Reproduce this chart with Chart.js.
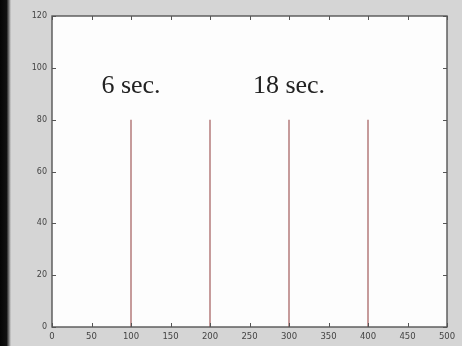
<!DOCTYPE html>
<html>
<head>
<meta charset="utf-8">
<script src="https://cdn.jsdelivr.net/npm/chart.js@4/dist/chart.umd.min.js"></script>
<style>
  html, body { margin: 0; padding: 0; background: #d5d5d5; }
  #wrap { width: 462px; height: 346px; position: relative; filter: blur(0.45px); }
  canvas { display: block; }
</style>
</head>
<body>
<div id="wrap"><canvas id="c" width="462" height="346"></canvas></div>
<script>
// Spike positions (x) and heights
const spikeX = [100, 200, 300, 400];
const spikeHeight = [80, 80, 80, 80];

// Text annotations
const noteText = ['6 sec.', '18 sec.'];
const noteX = [100, 300];
const noteY = [93, 93];

// Axis tick values
const xTicks = [0, 50, 100, 150, 200, 250, 300, 350, 400, 450, 500];
const yTicks = [0, 20, 40, 60, 80, 100, 120];

const spikeColor = 'rgb(184,130,130)';

const datasets = spikeX.map((x, i) => ({
  data: [{ x: x, y: 0 }, { x: x, y: spikeHeight[i] }],
  borderColor: spikeColor,
  borderWidth: 1.6,
  pointRadius: 0,
  showLine: true,
  fill: false
}));

// Background, dark left edge, frame with inward ticks, and text notes
const decor = {
  id: 'decor',
  beforeDraw(chart) {
    const ctx = chart.ctx;
    ctx.save();
    ctx.fillStyle = '#d5d5d5';
    ctx.fillRect(0, 0, chart.width, chart.height);
    const g = ctx.createLinearGradient(0, 0, 11, 0);
    g.addColorStop(0, '#050505');
    g.addColorStop(0.6, '#111');
    g.addColorStop(1, '#d5d5d5');
    ctx.fillStyle = g;
    ctx.fillRect(0, 0, 11, chart.height);
    const a = chart.chartArea;
    ctx.fillStyle = '#fdfdfd';
    ctx.fillRect(a.left, a.top, a.right - a.left, a.bottom - a.top);
    ctx.restore();
  },
  afterDatasetsDraw(chart) {
    const ctx = chart.ctx;
    const a = chart.chartArea;
    const xs = chart.scales.x, ys = chart.scales.y;
    ctx.save();
    ctx.strokeStyle = '#555';
    ctx.lineWidth = 1.4;
    ctx.strokeRect(a.left, a.top, a.right - a.left, a.bottom - a.top);
    ctx.lineWidth = 1;
    const t = 4;
    ctx.beginPath();
    xTicks.forEach(v => {
      const px = Math.round(xs.getPixelForValue(v)) + 0.5;
      ctx.moveTo(px, a.bottom); ctx.lineTo(px, a.bottom - t);
      ctx.moveTo(px, a.top); ctx.lineTo(px, a.top + t);
    });
    yTicks.forEach(v => {
      const py = Math.round(ys.getPixelForValue(v)) + 0.5;
      ctx.moveTo(a.left, py); ctx.lineTo(a.left + t, py);
      ctx.moveTo(a.right, py); ctx.lineTo(a.right - t, py);
    });
    ctx.stroke();

    ctx.fillStyle = '#222';
    ctx.font = '26px "Liberation Serif", "DejaVu Serif", serif';
    ctx.textAlign = 'center';
    ctx.textBaseline = 'middle';
    noteText.forEach((s, i) => {
      ctx.fillText(s, xs.getPixelForValue(noteX[i]), ys.getPixelForValue(noteY[i]));
    });
    ctx.restore();
  }
};

new Chart(document.getElementById('c'), {
  type: 'scatter',
  data: { datasets },
  options: {
    responsive: false,
    animation: false,
    layout: { padding: { top: 16, right: 15, left: 0, bottom: 0 } },
    plugins: { legend: { display: false }, tooltip: { enabled: false } },
    scales: {
      x: {
        type: 'linear', min: 0, max: 500,
        afterBuildTicks(scale) { scale.ticks = xTicks.map(v => ({ value: v })); },
        afterFit(scale) { scale.height = 19; },
        grid: { display: false, drawTicks: false },
        border: { display: false },
        ticks: { color: '#444', font: { size: 8.5, family: 'DejaVu Sans' }, padding: 5, maxRotation: 0, autoSkip: false }
      },
      y: {
        type: 'linear', min: 0, max: 120,
        afterBuildTicks(scale) { scale.ticks = yTicks.map(v => ({ value: v })); },
        afterFit(scale) { scale.width = 52; },
        grid: { display: false, drawTicks: false },
        border: { display: false },
        ticks: { color: '#444', font: { size: 8, family: 'DejaVu Sans' }, padding: 5, autoSkip: false }
      }
    }
  },
  plugins: [decor]
});
</script>
</body>
</html>
